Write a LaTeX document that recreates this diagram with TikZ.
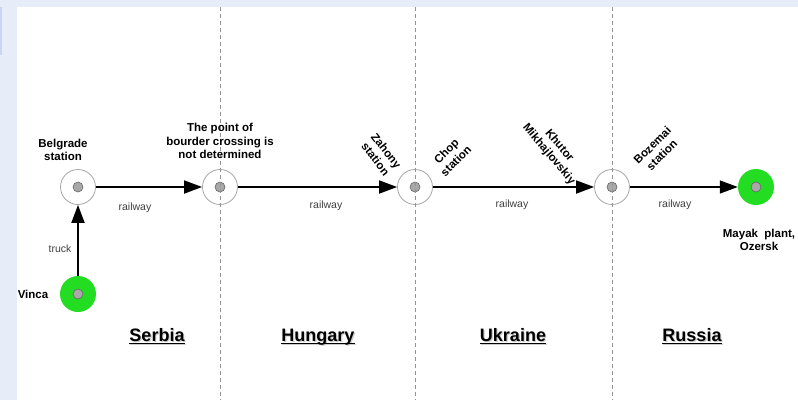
\documentclass[tikz,border=0pt]{standalone}
\usepackage{fontspec}
\setmainfont{Liberation Sans}
\usetikzlibrary{arrows.meta}
\definecolor{bgblue}{HTML}{E6ECF8}
\definecolor{barblue}{HTML}{C9D6F2}
\definecolor{nodegreen}{HTML}{22DD22}
\definecolor{dotgray}{HTML}{A8A8A8}
\begin{document}
\begin{tikzpicture}[x=1pt,y=-1pt,
  station/.style={circle,draw=gray!70,line width=0.8pt,minimum size=35pt,inner sep=0pt,fill=white},
  endpt/.style={circle,fill=nodegreen,minimum size=36pt,inner sep=0pt},
  dot/.style={circle,fill=dotgray,draw=gray!80!black,line width=0.6pt,minimum size=10pt,inner sep=0pt},
  arr/.style={line width=1.8pt,-{Triangle[length=18pt,width=13pt]}},
  lab/.style={font=\bfseries\fontsize{11.5}{13.5}\selectfont,align=center,inner sep=0pt},
  rail/.style={font=\fontsize{10.5}{12}\selectfont,text=black!75,inner sep=0pt},
  borderline/.style={draw=gray!85,line width=0.8pt,dash pattern=on 4pt off 3pt},
  country/.style={font=\bfseries\fontsize{18}{20}\selectfont,inner sep=0pt,anchor=base},
  shadowtxt/.style={country,text=gray!40}
]
\useasboundingbox (0,0) rectangle (798,400);
\fill[bgblue] (0,0) rectangle (798,400);
\fill[white] (17,7) rectangle (798,400);
\fill[barblue] (0,7) rectangle (2,55);

% stations
\node[station] (bel) at (78,187) {};
\node[station] (bor) at (220,187) {};
\node[station] (cho) at (415,187) {};
\node[station] (kmi) at (612,187) {};
\node[endpt] (may) at (756,187) {};
\node[endpt] (vin) at (78,294) {};

% inner dots
\node[dot] (beld) at (bel) {};
\node[dot] (bord) at (bor) {};
\node[dot] (chod) at (cho) {};
\node[dot] (kmid) at (kmi) {};
\node[dot] (mayd) at (may) {};
\node[dot] (vind) at (vin) {};

% border lines
\coordinate (b1t) at (220,7);  \coordinate (b1b) at (220,400);
\coordinate (b2t) at (415,7);  \coordinate (b2b) at (415,400);
\coordinate (b3t) at (612,7);  \coordinate (b3b) at (612,400);
\draw[borderline] (b1t) -- (b1b);
\draw[borderline] (b2t) -- (b2b);
\draw[borderline] (b3t) -- (b3b);

% connectors
\draw[arr] (vin) -- (bel);
\draw[arr] (bel) -- (bor);
\draw[arr] (bor) -- (cho);
\draw[arr] (cho) -- (kmi);
\draw[arr,line width=1.3pt] (kmi) -- (may);

% labels
\node[lab] (lbel) at (63,150) {Belgrade\\station};
\node[lab] (lbor) at (220,141) {The point of\\bourder crossing is\\not determined};
\node[lab,rotate=-52] (lzah) at (381,155) {Zahony\\station};
\node[lab,rotate=45] (lcho) at (451,156) {Chop\\station};
\node[lab,rotate=-50] (lkhu) at (554,150) {Khutor\\Mikhajlovskiy};
\node[lab,rotate=45] (lboz) at (657,150) {Bozemai\\station};
\node[lab] (lmay) at (759,240) {Mayak\ \ plant,\\Ozersk};
\node[lab] (lvin) at (33,294) {Vinca};

\node[rail] (r1) at (135,208) {railway};
\node[rail] (r2) at (326,206) {railway};
\node[rail] (r3) at (512,205) {railway};
\node[rail] (r4) at (675,205) {railway};
\node[rail] (tr) at (60,249) {truck};

% countries with shadow and underline
\foreach \nm/\cx in {Serbia/157,Hungary/318,Ukraine/513,Russia/692}{
  \node[shadowtxt] (s\nm) at (\cx+1.2,342.2) {\nm};
  \draw[gray!40,line width=1.2pt] ([yshift=-2.5pt]s\nm.base west) -- ([yshift=-2.5pt]s\nm.base east);
  \node[country] (c\nm) at (\cx,341) {\nm};
  \draw[black,line width=1.2pt] ([yshift=-2.5pt]c\nm.base west) -- ([yshift=-2.5pt]c\nm.base east);
}
\end{tikzpicture}
\end{document}
